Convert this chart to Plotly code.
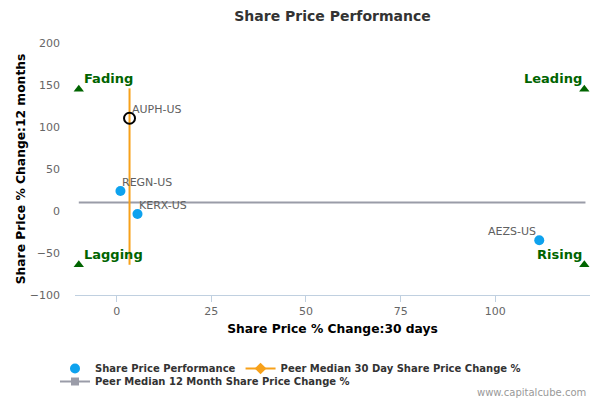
import plotly.graph_objects as go

# ── Data ─────────────────────────────────────────────────────────────────────
PEER_TICKERS = ["REGN-US", "KERX-US", "AEZS-US"]
PEER_X = [1.0, 5.5, 111.6]      # 30 day % change
PEER_Y = [23.8, -3.6, -34.9]    # 12 month % change

TARGET_TICKER = ["AUPH-US"]
TARGET_X = [3.4]
TARGET_Y = [110.4]

MEDIAN_30D = 3.4
MEDIAN_12M = 10.0

QUAD_LABELS = ["Fading", "Leading", "Lagging", "Rising"]
QUAD_X = [-10.0, 123.5, -10.0, 123.5]
QUAD_Y = [145.0, 145.0, -64.0, -64.0]

X_TICKS = [0, 25, 50, 75, 100]
Y_TICKS = [-100, -50, 0, 50, 100, 150, 200]

# ── Styles ───────────────────────────────────────────────────────────────────
FONT = "DejaVu Sans, Verdana, sans-serif"
BLUE = "#0ea2ee"
ORANGE = "#f7a11a"
GREY = "#9a9ca8"
GREEN = "#006400"
AXIS_LINE = "#c0d0e0"
LABEL_GREY = "#606060"

# page body has an 8px margin, so the figure is 8px smaller than the window
W, H = 592, 392

fig = go.Figure()

# peer median 12 month (horizontal)
fig.add_trace(go.Scatter(
    x=[min(QUAD_X), max(QUAD_X) + 0.3], y=[MEDIAN_12M, MEDIAN_12M],
    mode="lines", line=dict(color=GREY, width=2),
    showlegend=False, hoverinfo="skip",
))
# peer median 30 day (vertical)
fig.add_trace(go.Scatter(
    x=[MEDIAN_30D, MEDIAN_30D], y=[min(QUAD_Y), max(QUAD_Y) + 1],
    mode="lines", line=dict(color=ORANGE, width=2),
    showlegend=False, hoverinfo="skip",
))

# quadrant markers
fig.add_trace(go.Scatter(
    x=QUAD_X, y=QUAD_Y, mode="markers", cliponaxis=False,
    marker=dict(symbol="triangle-up", color=GREEN, size=9),
    showlegend=False, hoverinfo="skip",
))

# peers
fig.add_trace(go.Scatter(
    x=PEER_X, y=PEER_Y, mode="markers",
    marker=dict(color=BLUE, size=10),
    name="Share Price Performance", showlegend=True,
))

# target company
fig.add_trace(go.Scatter(
    x=TARGET_X, y=TARGET_Y, mode="markers",
    marker=dict(symbol="circle-open", color="black", size=11,
                line=dict(width=2, color="black")),
    showlegend=False,
))

# legend-only entries
fig.add_trace(go.Scatter(
    x=[None], y=[None], mode="lines+markers",
    line=dict(color=ORANGE, width=2),
    marker=dict(symbol="diamond", color=ORANGE, size=9),
    name="Peer Median 30 Day Share Price Change %",
))
fig.add_trace(go.Scatter(
    x=[None], y=[None], mode="lines+markers",
    line=dict(color=GREY, width=2),
    marker=dict(symbol="square", color=GREY, size=8),
    name="Peer Median 12 Month Share Price Change %",
    legend="legend2",
))

annotations = []
# quadrant labels
quad_side = ["left", "right", "left", "right"]
for lab, qx, qy, side in zip(QUAD_LABELS, QUAD_X, QUAD_Y, quad_side):
    annotations.append(dict(
        x=qx, y=qy, xref="x", yref="y", text=lab, showarrow=False,
        xanchor=side, yanchor="bottom",
        xshift=3 if side == "left" else 0, yshift=1,
        font=dict(color=GREEN, size=13, family=FONT, weight="bold"),
    ))
# ticker labels
tickers = TARGET_TICKER + PEER_TICKERS
tx = TARGET_X + PEER_X
ty = TARGET_Y + PEER_Y
t_side = ["left", "left", "left", "right"]
for lab, px, py, side in zip(tickers, tx, ty, t_side):
    annotations.append(dict(
        x=px, y=py, xref="x", yref="y", text=lab, showarrow=False,
        xanchor=side, yanchor="bottom",
        xshift=0 if side == "left" else -1, yshift=0,
        font=dict(color=LABEL_GREY, size=11, family=FONT),
    ))
annotations.append(dict(
    text="www.capitalcube.com", xref="paper", yref="paper",
    x=0.996, y=-0.385, xanchor="right", yanchor="middle", showarrow=False,
    font=dict(size=10, color="#999999"),
))

legend_common = dict(
    orientation="h", xref="container", x=47 / W, xanchor="left",
    yref="container", yanchor="top",
    font=dict(size=10, color="#333333", weight="bold"),
    itemwidth=30, bgcolor="rgba(0,0,0,0)",
)

fig.update_layout(
    width=W, height=H,
    margin=dict(l=67, r=10, t=35, b=105),
    plot_bgcolor="white", paper_bgcolor="white",
    font=dict(family=FONT, size=11, color="#666666"),
    title=dict(text="Share Price Performance", x=0.5, xanchor="center",
               xref="paper", yref="container", y=1 - 8 / H, yanchor="middle",
               font=dict(family=FONT, size=14, color="#333333",
                         weight="bold")),
    xaxis=dict(
        range=[-11, 125], tickvals=X_TICKS, automargin=False,
        showgrid=False, zeroline=False,
        showline=True, linecolor=AXIS_LINE, linewidth=1,
        ticks="outside", tickcolor=AXIS_LINE, ticklen=6,
        tickfont=dict(color="#666666", size=11),
        title=dict(text="Share Price % Change:30 days", standoff=7,
                   font=dict(size=12.3, color="#000000", weight="bold")),
    ),
    yaxis=dict(
        range=[-100, 200], tickvals=Y_TICKS, automargin=False,
        showgrid=False, zeroline=False, showline=False,
        tickfont=dict(color="#666666", size=11),
        ticklabelstandoff=14,
        title=dict(text="Share Price % Change:12 months", standoff=1,
                   font=dict(size=12.3, color="#000000", weight="bold")),
    ),
    legend=dict(y=1 - 346 / H, **legend_common),
    legend2=dict(y=1 - 359 / H, **legend_common),
    annotations=annotations,
    showlegend=True,
)

fig.write_html("out.html")
